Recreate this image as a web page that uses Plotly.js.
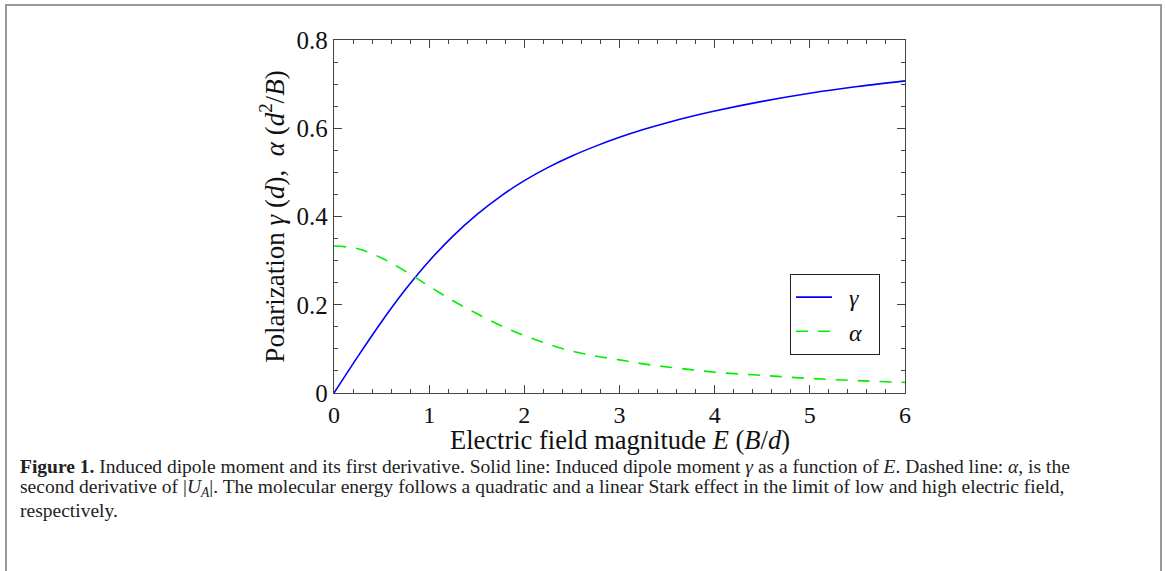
<!DOCTYPE html>
<html>
<head>
<meta charset="utf-8">
<script src="https://cdn.plot.ly/plotly-3.0.1.min.js"></script>
<style>html,body{margin:0;padding:0;background:#fff;}#chart{width:1165px;height:571px;}</style>
</head>
<body>
<div id="chart"></div>
<script>
const fieldE = [0, 0.25, 0.5, 0.75, 1, 1.25, 1.5, 1.75, 2, 2.25, 2.5, 2.75, 3, 3.25, 3.5, 3.75, 4, 4.5, 5, 5.5, 6];
const gammaVals = [0, 0.0825, 0.1616, 0.2344, 0.2992, 0.3556, 0.4042, 0.4458, 0.4812, 0.5113, 0.5371, 0.5595, 0.5794, 0.597, 0.6126, 0.6266, 0.6391, 0.6609, 0.6792, 0.6945, 0.7075];
const alphaVals = [0.333, 0.327, 0.306, 0.276, 0.242, 0.209, 0.180, 0.153, 0.130, 0.111, 0.095, 0.084, 0.075, 0.066, 0.059, 0.053, 0.047, 0.040, 0.033, 0.028, 0.024];
const xTicks = [0, 1, 2, 3, 4, 5, 6];
const yTicks = [0, 0.2, 0.4, 0.6, 0.8];
const yTickText = ['0', '0.2', '0.4', '0.6', '0.8'];
const seriesNames = ['&nbsp;&nbsp;<i>γ</i>&nbsp;&nbsp;', '&nbsp;&nbsp;<i>α</i>&nbsp;&nbsp;'];
const xTitle = 'Electric field magnitude <i>E</i> (<i>B</i>/<i>d</i>)';
const yTitle = 'Polarization <i>γ</i> (<i>d</i>),  <i>α</i> (<i>d</i><sup>2</sup>/<i>B</i>)';
const captionLines = [
  '<b>Figure 1.</b> Induced dipole moment and its first derivative. Solid line: Induced dipole moment <i>γ</i> as a function of <i>E</i>. Dashed line: <i>α</i>, is the',
  'second derivative of |<i>U<sub>A</sub></i>|. The molecular energy follows a quadratic and a linear Stark effect in the limit of low and high electric field,',
  'respectively.'
];

const serif = 'Liberation Serif';
const axisCol = '#444';

const traces = [
  {x: fieldE, y: gammaVals, name: seriesNames[0], mode: 'lines',
   line: {color: '#0000ff', width: 1.6, shape: 'spline'}},
  {x: fieldE, y: alphaVals, name: seriesNames[1], mode: 'lines',
   line: {color: '#00ee00', width: 1.6, shape: 'spline', dash: '12px,10px'}}
];

const L = 334, R = 905, T = 40, B = 393;
const W = R - L, H = B - T;
const px = v => (v - L) / W;
const py = v => (B - v) / H;

const annotations = captionLines.map((t, i) => ({
  text: t, xref: 'paper', yref: 'paper', x: px(18), y: py(466 + i * 22),
  xanchor: 'left', yanchor: 'middle', showarrow: false, align: 'left',
  font: {family: serif, size: 19.5, color: '#222'}
}));
annotations.push({
  text: xTitle, xref: 'paper', yref: 'paper', x: 0.5, y: py(440),
  xanchor: 'center', yanchor: 'middle', showarrow: false,
  font: {family: serif, size: 26.5, color: '#111'}
});

const layout = {
  width: 1165, height: 571,
  margin: {l: L, r: 1165 - R, t: T, b: 571 - B},
  paper_bgcolor: '#fff', plot_bgcolor: '#fff',
  font: {family: serif, color: '#111'},
  showlegend: true,
  legend: {x: px(790), y: py(274), xanchor: 'left', yanchor: 'top',
    bordercolor: '#222', borderwidth: 1, bgcolor: '#fff',
    font: {family: serif, size: 24, color: '#111'}, itemwidth: 36, tracegroupgap: 0},
  xaxis: {range: [0, 6], tickvals: xTicks, ticks: 'inside', ticklen: 8, tickwidth: 1,
    tickcolor: axisCol, showline: true, linecolor: axisCol, linewidth: 1.2, mirror: 'ticks',
    showgrid: false, zeroline: false,
    minor: {dtick: 0.2, ticks: 'inside', ticklen: 4, tickcolor: axisCol, showgrid: false},
    tickfont: {family: serif, size: 24, color: '#111'}},
  yaxis: {range: [0, 0.8], tickvals: yTicks, ticktext: yTickText, ticks: 'inside', ticklen: 8, tickwidth: 1,
    tickcolor: axisCol, showline: true, linecolor: axisCol, linewidth: 1.2, mirror: 'ticks',
    showgrid: false, zeroline: false, automargin: true,
    minor: {dtick: 0.05, ticks: 'inside', ticklen: 4, tickcolor: axisCol, showgrid: false},
    tickfont: {family: serif, size: 25, color: '#111'},
    title: {text: yTitle, standoff: 4,
      font: {family: serif, size: 27, color: '#111'}}},
  shapes: [{type: 'rect', xref: 'paper', yref: 'paper', x0: px(6), x1: px(1161), y0: py(5), y1: py(580),
    line: {color: '#999', width: 2}, fillcolor: 'rgba(0,0,0,0)', layer: 'below'}],
  annotations: annotations
};

Plotly.newPlot('chart', traces, layout, {staticPlot: true, displayModeBar: false});
</script>
</body>
</html>
